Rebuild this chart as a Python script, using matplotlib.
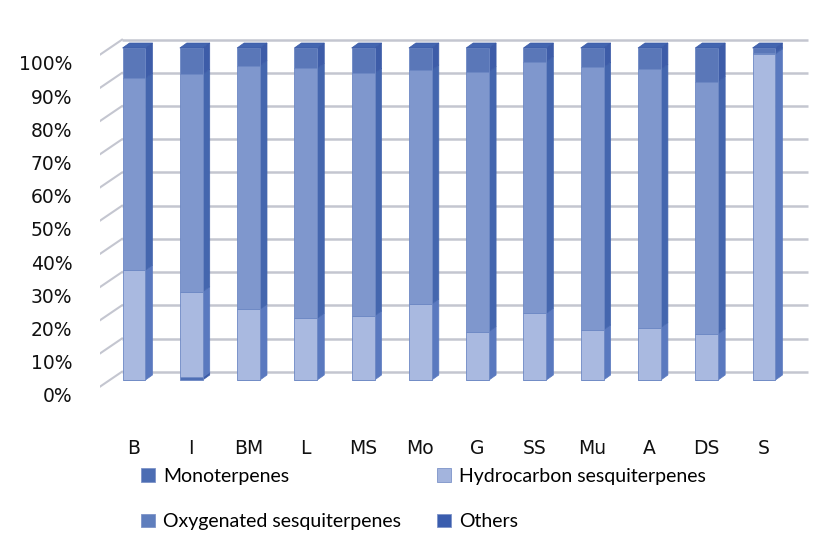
import numpy as np
import matplotlib
matplotlib.use("Agg")
import matplotlib.pyplot as plt
from matplotlib.patches import Polygon, Patch
from matplotlib.transforms import ScaledTranslation

plt.rcParams['font.family'] = ['DejaVu Sans']

categories = ["B", "I", "BM", "L", "MS", "Mo", "G", "SS", "Mu", "A", "DS", "S"]
monoterpenes = [0.0, 0.8, 0.0, 0.0, 0.0, 0.0, 0.0, 0.0, 0.0, 0.0, 0.0, 0.0]
hydrocarbon = [33.1, 25.8, 21.3, 18.6, 19.3, 22.9, 14.6, 20.1, 15.1, 15.8, 13.9, 98.2]
oxygenated = [57.8, 65.5, 73.4, 75.3, 73.1, 70.5, 78.3, 75.8, 79.1, 77.8, 76.0, 0.4]
others = [round(100 - m - h - o, 1) for m, h, o in zip(monoterpenes, hydrocarbon, oxygenated)]
ytick_values = list(range(0, 101, 10))

series = [
    ("Monoterpenes", monoterpenes, "#4f6fb5", "#3a5aa6"),
    ("Hydrocarbon sesquiterpenes", hydrocarbon, "#a9b9e0", "#5a79bf"),
    ("Oxygenated sesquiterpenes", oxygenated, "#7f97cd", "#4466ae"),
    ("Others", others, "#5a77b8", "#3d5ca8"),
]
legend_colors = {"Monoterpenes": "#4c6db3", "Hydrocarbon sesquiterpenes": "#a3b4dd",
                 "Oxygenated sesquiterpenes": "#5f7ebd", "Others": "#3a5dae"}

W, H = 831, 534
fig = plt.figure(figsize=(W / 100, H / 100), dpi=100)
fig.patch.set_facecolor("white")

ax_l, ax_r, ax_b, ax_t = 100, 815, 392, 30
ax = fig.add_axes([ax_l / W, 1 - ax_b / H, (ax_r - ax_l) / W, (ax_b - ax_t) / H])
ax.set_facecolor("white")

px_x = 57.27
px_y = 3.32
x0_pix = 134
ax.set_xlim(-(x0_pix - ax_l) / px_x, 11 + (ax_r - 764) / px_x)
ax.set_ylim(-(ax_b - 380) / px_y, 100 + (48 - ax_t) / px_y)

back_off = 2.5
wall_x0 = (122 - x0_pix) / px_x
wall_x1 = (808 - x0_pix) / px_x
side_x0 = (100 - x0_pix) / px_x
grid_col = "#c4c6d0"
for v in ytick_values:
    yb = v + back_off
    ax.plot([wall_x0, wall_x1], [yb, yb], color=grid_col, lw=1.8, zorder=0.5, solid_capstyle="butt")
    ax.plot([side_x0, wall_x0], [yb - 4.5, yb], color=grid_col, lw=1.5, zorder=0.5)

xs = np.arange(len(categories))
bw = 0.40
dx = 7 / px_x
dy = 5 / px_y
bottom = np.zeros(len(categories))
for name, vals, face, side in series:
    vals = np.array(vals, dtype=float)
    ax.bar(xs, vals, bw, bottom=bottom, color=face, edgecolor="#6d88c4", linewidth=0.6, zorder=3)
    for xi, b, v in zip(xs, bottom, vals):
        if v <= 0:
            continue
        xr = xi + bw / 2
        poly = Polygon([(xr, b), (xr + dx, b + dy), (xr + dx, b + v + dy), (xr, b + v)],
                       closed=True, facecolor=side, edgecolor=side, lw=0.5, zorder=2.9)
        ax.add_patch(poly)
    bottom = bottom + vals

for xi, top in zip(xs, bottom):
    xl = xi - bw / 2
    xr = xi + bw / 2
    poly = Polygon([(xl, top), (xl + dx, top + dy), (xr + dx, top + dy), (xr, top)],
                   closed=True, facecolor="#4466b0", edgecolor="#3a5aa6", lw=0.5, zorder=3.1)
    ax.add_patch(poly)

for s in ax.spines.values():
    s.set_visible(False)

ax.set_xticks(xs)
ax.set_xticklabels(categories, fontsize=13.5, color="#111111")
ax.tick_params(axis="x", length=0, pad=34)
ax.set_yticks(ytick_values)
ax.set_yticklabels([f"{v}%" for v in ytick_values], fontsize=13.5, color="#111111")
ax.tick_params(axis="y", length=0, pad=20)
off = ScaledTranslation(0, -15 / 100, fig.dpi_scale_trans)
for lab in ax.get_yticklabels():
    lab.set_transform(lab.get_transform() + off)

handles = {name: Patch(facecolor=legend_colors[name], edgecolor="#7d93c8", lw=0.6) for name, *_ in series}
leg_kw = dict(loc="upper left", frameon=False, prop={"family": "Lato", "size": 14},
              handlelength=0.7, handleheight=0.7, handletextpad=0.45,
              labelspacing=1.45, borderpad=0, borderaxespad=0)
col1 = ["Monoterpenes", "Oxygenated sesquiterpenes"]
col2 = ["Hydrocarbon sesquiterpenes", "Others"]
leg1 = fig.legend([handles[n] for n in col1], col1, bbox_to_anchor=(141 / W, 1 - 468 / H), **leg_kw)
leg2 = fig.legend([handles[n] for n in col2], col2, bbox_to_anchor=(437 / W, 1 - 468 / H), **leg_kw)

fig.savefig("out.png", dpi=100, facecolor="white")
